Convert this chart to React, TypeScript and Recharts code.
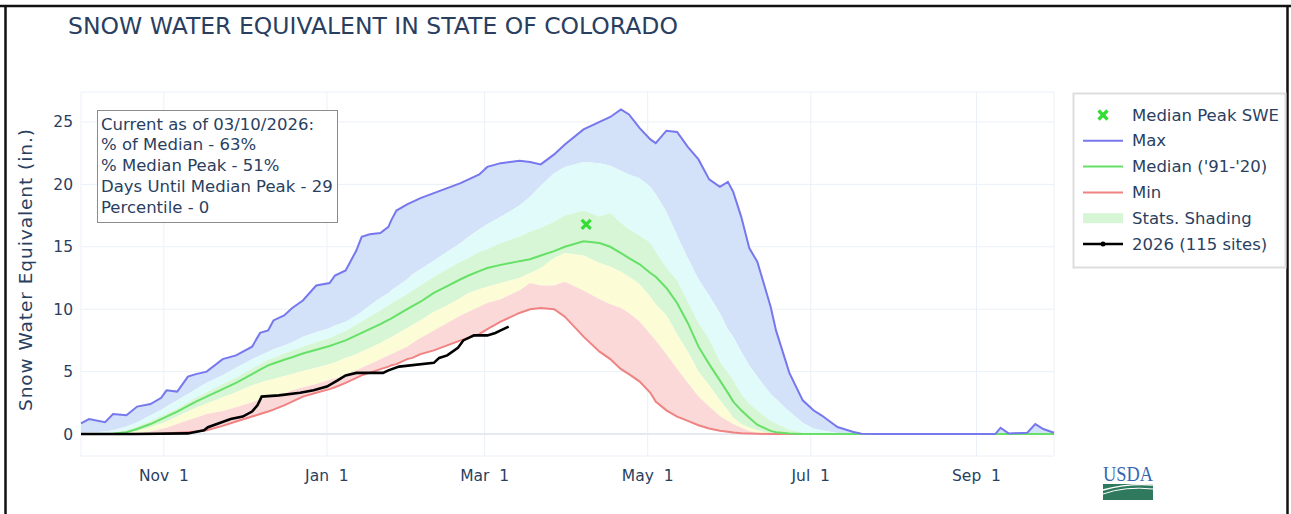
import React from "react";
import {
  ComposedChart, Area, Line, Scatter, XAxis, YAxis, CartesianGrid, ReferenceLine,
} from "recharts";

// day of water year (0 = Oct 1)
const days = [
  0, 3, 9, 12, 17, 21, 26, 30, 32, 36, 40, 43, 47, 53, 58, 64, 67, 70, 72, 76,
  79, 83, 88, 93, 95, 99, 103, 105, 108, 112, 115, 116, 118, 122, 124, 127, 132, 137, 142, 145,
  149, 152, 157, 164, 168, 172, 177, 181, 188, 194, 198, 202, 205, 209, 213, 215, 219, 223, 227, 231,
  235, 239, 242, 244, 247, 250, 253, 258, 260, 265, 270, 274, 277, 283, 289, 292, 300, 320, 342, 344,
  347, 354, 357, 360, 364,
];
const maxSwe = [
  0.85, 1.2, 0.95, 1.6, 1.5, 2.2, 2.4, 2.9, 3.5, 3.4, 4.6, 4.8, 5.0, 6.0, 6.3, 7.0, 8.1, 8.3, 9.1, 9.5,
  10.1, 10.7, 11.9, 12.1, 12.7, 13.1, 14.7, 15.8, 16.0, 16.1, 16.6, 17.1, 17.9, 18.4, 18.6, 18.9, 19.3, 19.7, 20.1, 20.4,
  20.8, 21.4, 21.7, 21.9, 21.8, 21.6, 22.4, 23.2, 24.4, 25.0, 25.4, 26.0, 25.6, 24.5, 23.6, 23.3, 24.3, 24.2, 23.0, 22.0,
  20.4, 19.8, 20.2, 19.4, 17.4, 14.9, 13.8, 10.2, 8.3, 4.9, 2.7, 1.9, 1.5, 0.56, 0.16, 0.02, 0, 0, 0, 0.5,
  0.05, 0.1, 0.8, 0.4, 0.1,
];
const p90 = [
  0.1, 0.12, 0.2, 0.3, 0.6, 0.95, 1.5, 1.95, 2.2, 2.7, 3.2, 3.6, 4.1, 4.7, 5.3, 6.0, 6.3, 6.6, 6.8, 7.1,
  7.35, 7.8, 8.15, 8.5, 8.7, 9.0, 9.5, 9.8, 10.3, 10.9, 11.3, 11.5, 11.8, 12.4, 12.8, 13.2, 13.9, 14.6, 15.3, 15.8,
  16.4, 16.8, 17.4, 18.3, 19.0, 19.9, 20.9, 21.4, 21.8, 21.7, 21.5, 21.1, 20.8, 20.5, 19.8, 19.2, 17.8, 15.9, 14.1, 12.4,
  11.1, 9.7, 8.4, 7.8, 6.6, 5.5, 4.6, 3.2, 2.8, 1.8, 0.9, 0.45, 0.3, 0.08, 0.02, 0, 0, 0, 0, 0,
  0, 0, 0, 0, 0,
];
const p70 = [
  0.02, 0.03, 0.05, 0.1, 0.3, 0.6, 1.05, 1.45, 1.65, 2.05, 2.55, 2.9, 3.35, 4.0, 4.5, 5.25, 5.6, 5.95, 6.1, 6.45,
  6.7, 7.0, 7.35, 7.7, 7.9, 8.25, 8.75, 9.0, 9.4, 9.9, 10.3, 10.45, 10.7, 11.2, 11.5, 11.9, 12.6, 13.2, 13.8, 14.1,
  14.6, 14.8, 15.3, 15.8, 16.2, 16.5, 17.0, 17.5, 17.9, 17.4, 17.7, 16.9, 16.4, 15.9, 15.3, 14.6, 13.3, 12.3, 10.6, 8.9,
  7.6, 5.8, 4.9, 4.3, 3.2, 2.4, 1.9, 1.05, 0.85, 0.35, 0.1, 0.04, 0.02, 0, 0, 0, 0, 0, 0, 0,
  0, 0, 0, 0, 0,
];
const median = [
  0, 0, 0, 0.02, 0.15, 0.4, 0.8, 1.2, 1.4, 1.8, 2.25, 2.6, 3.0, 3.6, 4.1, 4.8, 5.15, 5.5, 5.65, 5.95,
  6.15, 6.45, 6.75, 7.05, 7.2, 7.5, 7.9, 8.1, 8.4, 8.8, 9.15, 9.25, 9.5, 10.0, 10.25, 10.6, 11.3, 11.85, 12.4, 12.7,
  13.05, 13.3, 13.55, 13.85, 14.0, 14.3, 14.65, 15.0, 15.45, 15.3, 15.0, 14.5, 14.1, 13.6, 12.9, 12.6, 11.7, 10.5, 8.9, 7.0,
  5.6, 4.3, 3.3, 2.6, 1.9, 1.3, 0.75, 0.25, 0.15, 0.05, 0, 0, 0, 0, 0, 0, 0, 0, 0, 0,
  0, 0, 0, 0, 0,
];
const p30 = [
  0, 0, 0, 0.01, 0.1, 0.25, 0.55, 0.85, 1.0, 1.4, 1.8, 2.1, 2.45, 2.95, 3.35, 3.9, 4.1, 4.3, 4.4, 4.65,
  4.8, 5.05, 5.3, 5.6, 5.75, 6.1, 6.4, 6.6, 6.9, 7.3, 7.65, 7.75, 8.0, 8.5, 8.75, 9.1, 9.8, 10.3, 10.9, 11.3,
  11.6, 11.8, 12.1, 12.5, 12.9, 13.3, 14.1, 14.5, 14.3, 13.7, 13.4, 13.0, 12.6, 12.0, 11.0, 10.4, 9.5, 8.0, 6.6, 5.0,
  3.9, 2.7, 1.9, 1.3, 0.8, 0.5, 0.3, 0.05, 0.02, 0, 0, 0, 0, 0, 0, 0, 0, 0, 0, 0,
  0, 0, 0, 0, 0,
];
const p10 = [
  0, 0, 0, 0, 0, 0.05, 0.2, 0.4, 0.5, 0.8, 1.1, 1.3, 1.6, 1.85, 2.15, 2.55, 2.75, 2.9, 3.05, 3.25,
  3.5, 3.75, 4.0, 4.35, 4.45, 4.75, 5.1, 5.3, 5.6, 6.0, 6.3, 6.4, 6.6, 7.0, 7.3, 7.7, 8.3, 8.9, 9.5, 9.8,
  10.2, 10.5, 10.8, 11.5, 12.1, 11.9, 11.9, 12.2, 11.5, 10.8, 10.4, 10.1, 9.7, 9.0, 8.0, 7.5, 6.4, 5.2, 4.1, 3.0,
  2.2, 1.45, 1.05, 0.8, 0.5, 0.25, 0.08, 0.01, 0, 0, 0, 0, 0, 0, 0, 0, 0, 0, 0, 0,
  0, 0, 0, 0, 0,
];
const minSwe = [
  0, 0, 0, 0, 0, 0, 0, 0.02, 0.05, 0.1, 0.15, 0.2, 0.3, 0.65, 1.0, 1.4, 1.6, 1.8, 1.95, 2.3,
  2.6, 3.0, 3.3, 3.6, 3.75, 4.1, 4.5, 4.7, 4.9, 5.2, 5.4, 5.5, 5.6, 6.0, 6.1, 6.4, 6.7, 7.1, 7.5, 7.7,
  8.0, 8.4, 9.0, 9.7, 10.0, 10.1, 10.0, 9.4, 7.8, 6.6, 6.0, 5.2, 4.8, 4.2, 3.3, 2.6, 1.9, 1.4, 1.05, 0.7,
  0.45, 0.27, 0.18, 0.12, 0.07, 0.04, 0.02, 0, 0, 0, 0, 0, 0, 0, 0, 0, 0, 0, 0, 0,
  0, 0, 0, 0, 0,
];

// water year 2026 so far (115 sites)
const curDays = [
  0, 20, 40, 46, 47.5, 56, 60.5, 64, 66, 67.6, 74, 82, 87, 92, 96, 99, 103, 113, 115, 119,
  132, 134, 137, 141, 143, 147, 152, 155, 157, 160,
];
const curSwe = [
  0, 0, 0.05, 0.3, 0.55, 1.2, 1.4, 1.8, 2.3, 3.0, 3.1, 3.3, 3.5, 3.8, 4.3, 4.7, 4.9, 4.9, 5.1, 5.4,
  5.7, 6.1, 6.3, 6.9, 7.5, 7.9, 7.9, 8.1, 8.3, 8.6,
];

const peakDay = 189;
const peakSwe = 16.8;

const tickDays = [31, 92, 151, 212, 273, 335];
const tickLabels = ["Nov\u00a0\u00a01", "Jan\u00a0\u00a01", "Mar\u00a0\u00a01", "May\u00a0\u00a01", "Jul\u00a0\u00a01", "Sep\u00a0\u00a01"];
const yTicks = [0, 5, 10, 15, 20, 25];

const infoLines = [
  "Current as of 03/10/2026:",
  "% of Median - 63%",
  "% Median Peak - 51%",
  "Days Until Median Peak - 29",
  "Percentile - 0",
];

const FONT = "DejaVu Sans, Verdana, sans-serif";
const TXT = "#2a3f5f";
const C_MAX = "#7777ee";
const C_MED = "#66e066";
const C_MIN = "#f08282";

const rows = days.map((day, i) => ({
  day,
  max: maxSwe[i],
  p90: p90[i],
  p70: p70[i],
  median: median[i],
  p30: p30[i],
  p10: p10[i],
  min: minSwe[i],
}));
const curRows = curDays.map((day, i) => ({ day, cur: curSwe[i] }));
const peakRows = [{ day: peakDay, peak: peakSwe }];

const XMark = (props: any) => {
  const { cx, cy } = props;
  const s = 4.5;
  return (
    <g stroke="#33dd33" strokeWidth={3.2}>
      <line x1={cx - s} y1={cy - s} x2={cx + s} y2={cy + s} />
      <line x1={cx - s} y1={cy + s} x2={cx + s} y2={cy - s} />
    </g>
  );
};

const legendItems = [
  { label: "Median Peak SWE", kind: "x" },
  { label: "Max", kind: "line", color: C_MAX },
  { label: "Median ('91-'20)", kind: "line", color: C_MED },
  { label: "Min", kind: "line", color: C_MIN },
  { label: "Stats. Shading", kind: "band", color: "#d6f6d6" },
  { label: "2026 (115 sites)", kind: "cur", color: "#000" },
];

export default function App() {
  return (
    <div style={{ position: "absolute", left: 0, top: 0, width: 1291, height: 514, background: "#fff", fontFamily: FONT }}>
      <div style={{ position: "absolute", left: 0, top: 0 }}>
        <ComposedChart width={1291} height={514} data={rows} margin={{ top: 92, right: 237, bottom: 18, left: 21 }}>
          <CartesianGrid stroke="#ebf0f8" strokeWidth={1} />
          <XAxis
            dataKey="day"
            type="number"
            domain={[0, 364]}
            ticks={tickDays}
            tickFormatter={(v: number) => tickLabels[tickDays.indexOf(v)] ?? ""}
            axisLine={false}
            tickLine={false}
            tickSize={0}
            tickMargin={14}
            height={40}
            interval={0}
            tick={{ fill: TXT, fontSize: 15.5, fontFamily: FONT }}
          />
          <YAxis
            type="number"
            domain={[-1.76, 27.4]}
            ticks={yTicks}
            allowDataOverflow
            axisLine={false}
            tickLine={false}
            tickSize={0}
            tickMargin={8}
            width={60}
            tick={{ fill: TXT, fontSize: 15.5, fontFamily: FONT }}
          />
          <ReferenceLine y={0} stroke="#e4e9f2" strokeWidth={2} />
          <Area dataKey={(d: any) => [d.p90, d.max]} stroke="none" fill="#d3e1f9" fillOpacity={1} isAnimationActive={false} dot={false} activeDot={false} />
          <Area dataKey={(d: any) => [d.p70, d.p90]} stroke="none" fill="#e1fafa" fillOpacity={1} isAnimationActive={false} dot={false} activeDot={false} />
          <Area dataKey={(d: any) => [d.p30, d.p70]} stroke="none" fill="#d6f6d6" fillOpacity={1} isAnimationActive={false} dot={false} activeDot={false} />
          <Area dataKey={(d: any) => [d.p10, d.p30]} stroke="none" fill="#fcfcd6" fillOpacity={1} isAnimationActive={false} dot={false} activeDot={false} />
          <Area dataKey={(d: any) => [d.min, d.p10]} stroke="none" fill="#fcd9d9" fillOpacity={1} isAnimationActive={false} dot={false} activeDot={false} />
          <Line dataKey="min" stroke={C_MIN} strokeWidth={2} dot={false} activeDot={false} isAnimationActive={false} />
          <Line dataKey="median" stroke={C_MED} strokeWidth={2} dot={false} activeDot={false} isAnimationActive={false} />
          <Line dataKey="max" stroke={C_MAX} strokeWidth={2} dot={false} activeDot={false} isAnimationActive={false} />
          <Line data={curRows} dataKey="cur" stroke="#000" strokeWidth={2.6} dot={false} activeDot={false} isAnimationActive={false} />
          <Scatter data={peakRows} dataKey="peak" shape={XMark} isAnimationActive={false} />
        </ComposedChart>
      </div>
      <svg width={1291} height={514} style={{ position: "absolute", left: 0, top: 0, pointerEvents: "none" }}>
        {/* frame */}
        <line x1={0} y1={6} x2={1291} y2={6} stroke="#111" strokeWidth={2.5} />
        <line x1={5.5} y1={6} x2={5.5} y2={514} stroke="#111" strokeWidth={2.5} />
        <line x1={1287.5} y1={6} x2={1287.5} y2={514} stroke="#111" strokeWidth={2.5} />

        <text x={68} y={34} fontSize={23.5} fill={TXT} fontFamily={FONT}>SNOW WATER EQUIVALENT IN STATE OF COLORADO</text>

        <text
          transform="translate(32,270) rotate(-90)"
          textAnchor="middle"
          fontSize={18.5}
          fill={TXT}
          fontFamily={FONT}
          textLength={282}
          lengthAdjust="spacing"
        >
          Snow Water Equivalent (in.)
        </text>

        {/* info box */}
        <rect x={97.5} y={110.5} width={240} height={112} fill="#fff" stroke="#8c8c8c" strokeWidth={1} />
        {infoLines.map((t, i) => (
          <text key={t} x={101} y={129.5 + i * 20.8} fontSize={16.5} fill={TXT} fontFamily={FONT}>{t}</text>
        ))}

        {/* legend */}
        <rect x={1073.5} y={93.5} width={212} height={174} fill="#fff" stroke="#dddddd" strokeWidth={2} />
        {legendItems.map((it, i) => {
          const cy = 115 + i * 25.8;
          return (
            <g key={it.label}>
              {it.kind === "x" && <XMark cx={1103} cy={cy} />}
              {it.kind === "line" && <line x1={1083} y1={cy} x2={1123} y2={cy} stroke={it.color} strokeWidth={2} />}
              {it.kind === "band" && <rect x={1083} y={cy - 5} width={40} height={10} fill={it.color} />}
              {it.kind === "cur" && (
                <g>
                  <line x1={1083} y1={cy} x2={1123} y2={cy} stroke="#000" strokeWidth={2.6} />
                  <circle cx={1103} cy={cy} r={2.5} fill="#000" />
                </g>
              )}
              <text x={1132} y={cy} dominantBaseline="central" fontSize={16.5} fill={TXT} fontFamily={FONT}>{it.label}</text>
            </g>
          );
        })}

        {/* USDA logo */}
        <text x={1103} y={481} fontSize={22} fill="#3567b4" fontFamily="Liberation Serif, serif" textLength={50} lengthAdjust="spacingAndGlyphs">USDA</text>
        <rect x={1103} y={484} width={50} height={16} fill="#2f7a5f" />
        <path d="M1103 490 Q1128 483 1153 485" stroke="#fff" strokeWidth={1.3} fill="none" />
        <path d="M1103 494 Q1125 486 1153 489" stroke="#fff" strokeWidth={1} fill="none" />
      </svg>
    </div>
  );
}
